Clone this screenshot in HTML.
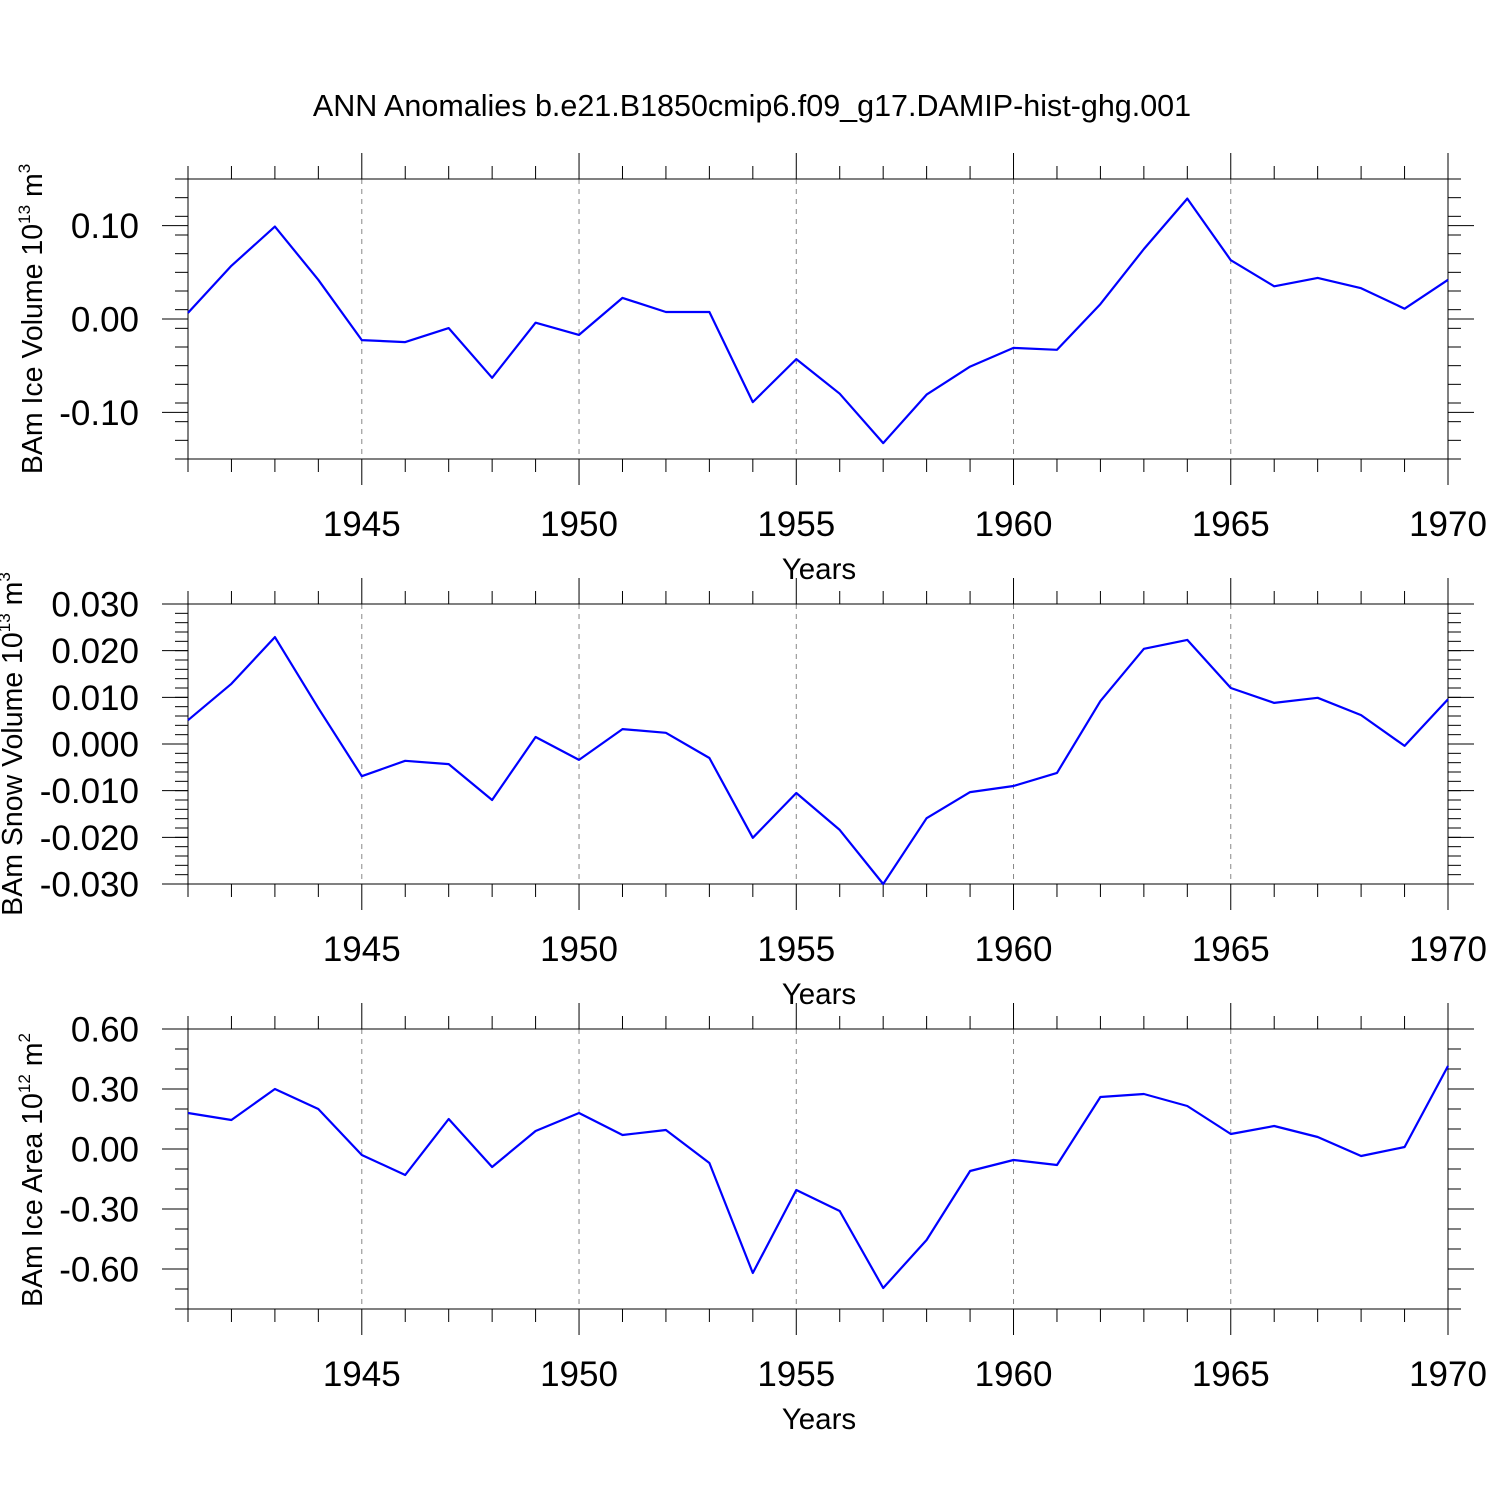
<!DOCTYPE html>
<html><head><meta charset="utf-8"><style>
html,body{margin:0;padding:0;background:#fff;}
svg{display:block;font-family:"Liberation Sans",Arial,sans-serif;}
</style></head><body>
<svg id="chart" width="1500" height="1500" viewBox="0 0 1500 1500" xmlns="http://www.w3.org/2000/svg">
<rect width="1500" height="1500" fill="#fff"/>
<text x="752" y="116" font-size="30.5" text-anchor="middle">ANN Anomalies b.e21.B1850cmip6.f09_g17.DAMIP-hist-ghg.001</text>
</svg>
<script>
const years = [1941,1942,1943,1944,1945,1946,1947,1948,1949,1950,1951,1952,1953,1954,1955,1956,1957,1958,1959,1960,1961,1962,1963,1964,1965,1966,1967,1968,1969,1970];
const iceVolume = [0.0065,0.057,0.099,0.042,-0.0226,-0.0247,-0.0097,-0.063,-0.004,-0.017,0.0226,0.0075,0.0075,-0.089,-0.043,-0.080,-0.133,-0.081,-0.051,-0.031,-0.033,0.016,0.075,0.129,0.063,0.035,0.044,0.033,0.011,0.042];
const snowVolume = [0.0051,0.0129,0.0229,0.0077,-0.0069,-0.0036,-0.0043,-0.012,0.0015,-0.0034,0.0032,0.0024,-0.003,-0.0201,-0.0105,-0.0184,-0.030,-0.0159,-0.0103,-0.009,-0.0062,0.0092,0.0204,0.0223,0.012,0.0088,0.0099,0.0062,-0.0004,0.0096];
const iceArea = [0.18,0.145,0.30,0.20,-0.03,-0.13,0.15,-0.09,0.09,0.18,0.07,0.095,-0.07,-0.62,-0.205,-0.31,-0.695,-0.455,-0.11,-0.055,-0.08,0.26,0.275,0.215,0.075,0.115,0.06,-0.035,0.01,0.415];
const xTickLabels = ["1945","1950","1955","1960","1965","1970"];
const iceVolumeTicks = ["-0.10","0.00","0.10"];
const snowVolumeTicks = ["-0.030","-0.020","-0.010","0.000","0.010","0.020","0.030"];
const iceAreaTicks = ["-0.60","-0.30","0.00","0.30","0.60"];

const svg = document.getElementById('chart');
const NS = 'http://www.w3.org/2000/svg';
function mk(tag, attrs, parent){const e=document.createElementNS(NS,tag);for(const k in attrs)e.setAttribute(k,attrs[k]);(parent||svg).appendChild(e);return e;}
const X0=188, X1=1448, YMIN=1941, YMAX=1970;
function xs(v){return X0+(v-YMIN)/(YMAX-YMIN)*(X1-X0);}

const panels = [
 {key:'ice-volume', top:179, bot:459, vmin:-0.15, vmax:0.15, minor:0.02, data:iceVolume, ticks:iceVolumeTicks, title:'BAm Ice Volume 10', sup:'13', unit:' m', usup:'3', tx:42, cy:319},
 {key:'snow-volume', top:604, bot:884, vmin:-0.03, vmax:0.03, minor:0.002, data:snowVolume, ticks:snowVolumeTicks, title:'BAm Snow Volume 10', sup:'13', unit:' m', usup:'3', tx:22, cy:744},
 {key:'ice-area', top:1029, bot:1309, vmin:-0.8, vmax:0.6, minor:0.1, data:iceArea, ticks:iceAreaTicks, title:'BAm Ice Area 10', sup:'12', unit:' m', usup:'2', tx:42, cy:1170}
];

panels.forEach(p=>{
  const g = mk('g',{});
  
  
  const ys = v => p.bot-(v-p.vmin)/(p.vmax-p.vmin)*(p.bot-p.top);
  xTickLabels.forEach(t=>{
    const x=xs(+t);
    if(x<X1-1){const l=mk('line',{x1:x,x2:x,y1:p.top,y2:p.bot,stroke:'#888','stroke-width':1,'stroke-dasharray':'5,5'},g);
      
      }
  });
  years.forEach(yr=>{
    const x=xs(yr); const major = yr%5===0; const len = major?26:13;
    mk('line',{x1:x,x2:x,y1:p.top-len,y2:p.top,stroke:'#000','stroke-width':1},g);
    mk('line',{x1:x,x2:x,y1:p.bot,y2:p.bot+len,stroke:'#000','stroke-width':1},g);
  });
  xTickLabels.forEach(t=>{
    const tl=mk('text',{x:xs(+t),y:p.bot+77,'font-size':35,'text-anchor':'middle'},g);
    tl.textContent=t;
    
    
  });
  const xt=mk('text',{x:819,y:p.bot+120,'font-size':29.5,'text-anchor':'middle'},g);
  xt.textContent='Years';
  
  
  const nMin = Math.round((p.vmax-p.vmin)/p.minor);
  for(let i=0;i<=nMin;i++){
    const v=p.vmin+i*p.minor, y=ys(v);
    mk('line',{x1:X0-13,x2:X0,y1:y,y2:y,stroke:'#000','stroke-width':1},g);
    mk('line',{x1:X1,x2:X1+13,y1:y,y2:y,stroke:'#000','stroke-width':1},g);
  }
  p.ticks.forEach(t=>{
    const y=ys(parseFloat(t));
    mk('line',{x1:X0-26,x2:X0,y1:y,y2:y,stroke:'#000','stroke-width':1},g);
    mk('line',{x1:X1,x2:X1+26,y1:y,y2:y,stroke:'#000','stroke-width':1},g);
    const tl=mk('text',{x:139,y:y+12.5,'font-size':35,'text-anchor':'end'},g);
    tl.textContent=t;
    
    
  });
  mk('rect',{x:X0,y:p.top,width:X1-X0,height:p.bot-p.top,fill:'none',stroke:'#000','stroke-width':1},g);
  const pts = years.map((yr,i)=>xs(yr).toFixed(1)+','+ys(p.data[i]).toFixed(1)).join(' ');
  const pl=mk('polyline',{points:pts,fill:'none',stroke:'#0000ff','stroke-width':2.2,'stroke-linejoin':'round'},g);
  
  
  const yt=mk('text',{x:0,y:0,'font-size':28.5,'text-anchor':'middle',transform:`translate(${p.tx},${p.cy}) rotate(-90)`},g);
  
  
  yt.appendChild(document.createTextNode(p.title));
  const s1=mk('tspan',{'font-size':17,dy:-12},yt); s1.textContent=p.sup;
  const s2=mk('tspan',{dy:12},yt); s2.textContent=p.unit;
  const s3=mk('tspan',{'font-size':17,dy:-12},yt); s3.textContent=p.usup;
});
</script>
</body></html>
